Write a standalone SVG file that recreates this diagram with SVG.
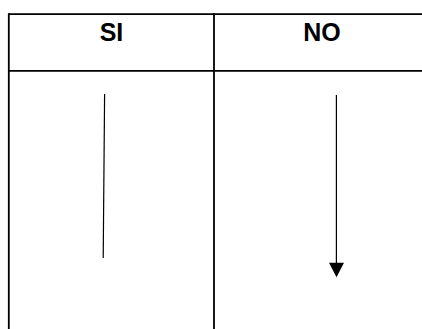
<svg xmlns="http://www.w3.org/2000/svg" width="422" height="329" viewBox="0 0 422 329">
  <style>
    .grid { stroke: #000; stroke-width: 1.8; fill: none; }
    .head { font-family: "Liberation Sans", Arial, sans-serif; font-weight: bold; font-size: 25px; fill: #000; text-anchor: middle; }
    .flow { stroke: #000; stroke-width: 1.2; fill: none; }
    .head-tip { fill: #000; }
  </style>
  <rect width="422" height="329" fill="#fff"/>
  <!-- table frame -->
  <g id="table">
    <line class="grid" x1="8.8" y1="14.2" x2="422" y2="14.2"/>
    <line class="grid" x1="8.8" y1="70.8" x2="422" y2="70.8"/>
    <line class="grid" x1="8.8" y1="13.3" x2="8.8" y2="329"/>
    <line class="grid" x1="214" y1="13.3" x2="214" y2="329"/>
  </g>
  <g id="col-si">
    <text class="head" x="111.5" y="40.5">SI</text>
  </g>
  <g id="col-no">
    <text class="head" x="322" y="40.5">NO</text>
  </g>
  <!-- flow lines -->
  <g id="connectors">
    <line class="flow" x1="104.6" y1="94" x2="103.2" y2="258"/>
    <line class="flow" x1="336.4" y1="95" x2="336.4" y2="264"/>
    <path class="head-tip" d="M329,262.7 L344,262.7 L336.5,277.3 Z"/>
  </g>
</svg>
